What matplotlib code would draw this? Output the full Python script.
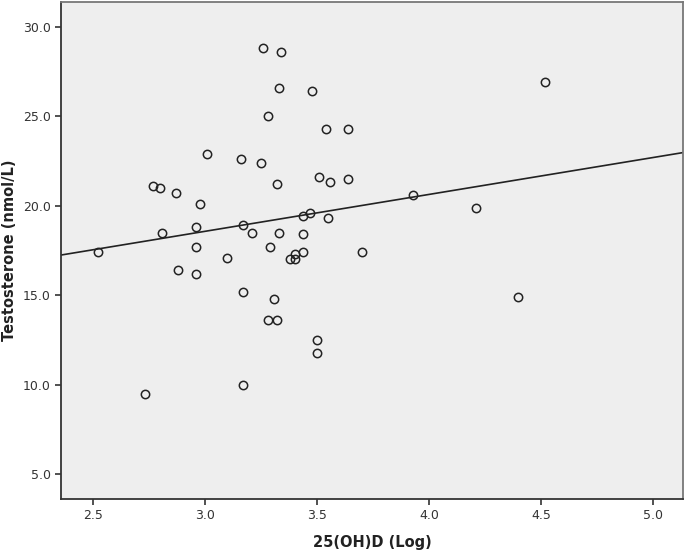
import numpy as np
import matplotlib
matplotlib.use("Agg")
import matplotlib.pyplot as plt

# 25(OH)D (log) vs testosterone
vitd_log = [2.52, 2.73, 2.77, 2.80, 2.81, 2.87, 2.88, 2.96, 2.96, 2.96,
            2.98, 3.01, 3.10, 3.16, 3.17, 3.17, 3.17, 3.21, 3.25, 3.26,
            3.28, 3.28, 3.29, 3.31, 3.32, 3.32, 3.33, 3.33, 3.34, 3.38,
            3.40, 3.40, 3.44, 3.44, 3.44, 3.47, 3.48, 3.50, 3.50, 3.51,
            3.54, 3.55, 3.56, 3.64, 3.64, 3.70, 3.93, 4.21, 4.40, 4.52]
testo = [17.4, 9.5, 21.1, 21.0, 18.5, 20.7, 16.4, 18.8, 17.7, 16.2,
         20.1, 22.9, 17.1, 22.6, 18.9, 15.2, 10.0, 18.5, 22.4, 28.8,
         25.0, 13.6, 17.7, 14.8, 13.6, 21.2, 26.6, 18.5, 28.6, 17.0,
         17.0, 17.3, 19.4, 18.4, 17.4, 19.6, 26.4, 12.5, 11.8, 21.6,
         24.3, 19.3, 21.3, 24.3, 21.5, 17.4, 20.6, 19.9, 14.9, 26.9]

# fit line (slope, intercept) as drawn
fit_slope = 2.06
fit_icept = 12.39

xlim = (2.357, 5.135)
ylim = (3.62, 31.38)
xticks = [2.5, 3.0, 3.5, 4.0, 4.5, 5.0]
yticks = [5.0, 10.0, 15.0, 20.0, 25.0, 30.0]

fig = plt.figure(figsize=(6.87, 5.51), dpi=100)
ax = fig.add_axes([0.0888, 0.0944, 0.9054, 0.902])
ax.set_facecolor("#eeeeee")

ax.plot(vitd_log, testo, "o", ms=6, mfc="none", mec="#222222", mew=1.1)

xx = np.array(xlim)
ax.plot(xx, fit_icept + fit_slope * xx, color="#222222", lw=1.2)

ax.set_xlim(xlim)
ax.set_ylim(ylim)
ax.set_xticks(xticks)
ax.set_yticks(yticks)
ax.set_xticklabels([f"{t:.1f}" for t in xticks])
ax.set_yticklabels([f"{t:.1f}" for t in yticks])
ax.tick_params(direction="out", length=4, width=1.2, color="#333333",
               labelsize=9, labelcolor="#333333")

for s in ["left", "bottom"]:
    ax.spines[s].set_color("#333333")
    ax.spines[s].set_linewidth(1.3)
for s in ["top", "right"]:
    ax.spines[s].set_color("#777777")
    ax.spines[s].set_linewidth(1.3)

ax.set_xlabel("25(OH)D (Log)", fontsize=10.5, fontweight="bold", color="#222222", labelpad=9)
ax.set_ylabel("Testosterone (nmol/L)", fontsize=10.5, fontweight="bold", color="#222222", labelpad=4)

fig.savefig("out.png", dpi=100)
